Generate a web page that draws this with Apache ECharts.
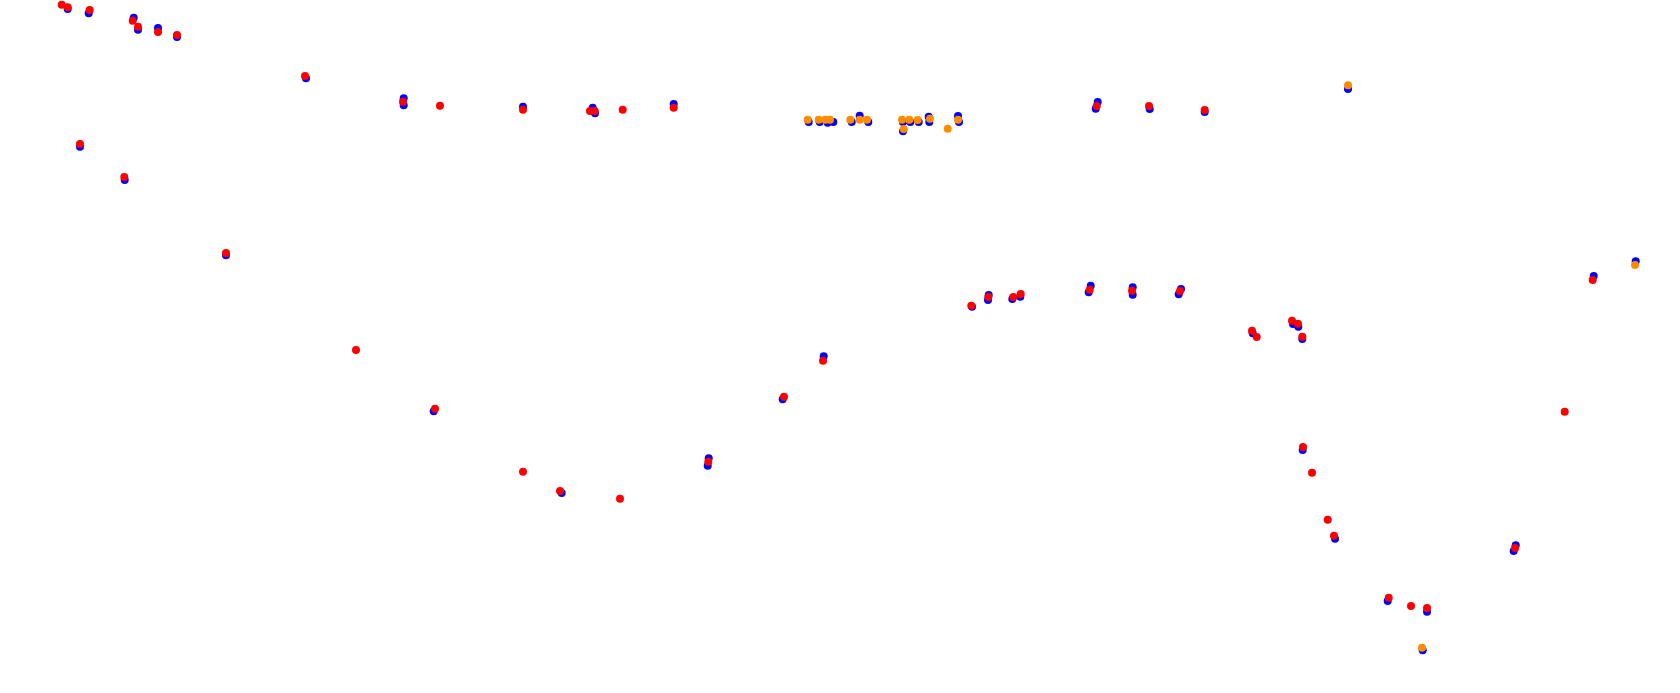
<!DOCTYPE html>
<html>
<head>
<meta charset="utf-8">
<script src="https://cdn.jsdelivr.net/npm/echarts@6/dist/echarts.min.js"></script>
<style>html,body{margin:0;padding:0;background:#fff;}#c{width:1680px;height:693px;}</style>
</head>
<body>
<div id="c"></div>
<script>
const blueSeries = [[67.7,9],[88.7,13.3],[133.7,17.7],[138,29.7],[158,28],[177,37],[80,146.7],[124.7,180],[226,255.3],
[306,78.3],[403.7,98.3],[403.7,105.3],[523,106.7],
[592.7,107.7],[595,113.3],[673.7,104],
[808.7,122],[819.7,122],[827.7,122.7],[833.3,122],
[851.7,122],[859.7,115.7],[868.3,122],[903,122],[910.3,122],[918.7,122],[903,131.3],[928.7,116.7],[929.3,122],[958,116],[959,122],
[1097.7,102],[1095.7,108.7],
[972,306.7],[988.7,295],[988,300],[1012.3,299],[1020.3,296.7],[1090.7,285.7],[1088.7,292.3],
[1149.7,109],[1204.7,112],[1348,89],
[1132.7,287.3],[1132.7,294.7],[1181,289],[1178.7,294.3],[1252.7,333.3],[1293,324],[1298.3,326.7],[1302.3,339],
[1593.7,276],[1635.7,261.3],
[433.7,411.3],[561.7,493],[708.7,458.3],[707.7,465.7],[782.7,399.3],[823.7,356.3],
[1302.7,450],[1335,538.7],[1387.7,601],
[1515.7,545.3],[1513.7,551],[1427,611.7],[1422.7,650.3]];

const redSeries = [[61.7,4.7],[67.7,7.3],[89.7,10],[132.7,20.7],[138,26.7],[158,32],[177,35],[80,144],[124.3,177],[226,253],
[305,76],[403,101.7],[440,105.7],[523,109.7],
[590,111],[594.7,111],[622.7,109.7],[673.7,107.7],
[1096.7,106],[971.3,305.7],[988.3,297],[1013.3,297],[1020.7,294],[1089.7,289.7],
[1149,106],[1204.7,110],[1132,290.7],[1180,291],[1252,330.7],[1256.7,337],[1292,320.7],[1298,323.7],[1302.3,336.7],
[1592.7,280],
[356,350],[435,408.7],[523,471.7],[560,491],[620,498.7],[708.3,461.7],[784,396.7],[823,360.7],
[1303,447],[1312,472.7],[1327.7,519.7],[1334,535.7],[1388.7,597.7],
[1564.7,411.7],[1515,548],[1411,606],[1427,608]];

const orangeSeries = [[807.7,119.7],[818.7,119.7],[825.3,119.7],[830,119.7],[850.3,119.7],[859.7,119.7],[867,119.7],[902,119.7],[909.3,119.7],[917.7,120],[903.7,129],[930,118.7],[947.7,128.7],[958,119.7],[1348,85.3],[1635,265],[1422,647.7]];

const chart = echarts.init(document.getElementById('c'), null, {renderer:'canvas'});
const base = {type:'scatter', symbolSize:8, clip:false, animation:false};
chart.setOption({
  animation:false,
  grid:{left:0,right:0,top:0,bottom:0},
  xAxis:{type:'value',min:0,max:1680,show:false},
  yAxis:{type:'value',min:0,max:693,inverse:true,show:false},
  series:[
    Object.assign({}, base, {name:'blue', data:blueSeries, itemStyle:{color:'#0000ff',opacity:1}}),
    Object.assign({}, base, {name:'red', data:redSeries, itemStyle:{color:'#ff0000',opacity:1}}),
    Object.assign({}, base, {name:'orange', data:orangeSeries, itemStyle:{color:'#ff8c00',opacity:1}})
  ]
});
</script>
</body>
</html>
